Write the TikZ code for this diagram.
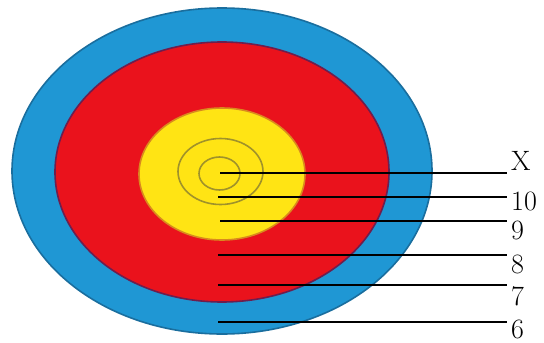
\documentclass[tikz,border=0pt]{standalone}
\usepackage{tikz}
\usetikzlibrary{positioning,calc}
\definecolor{cBlue}{HTML}{1F97D4}
\definecolor{cBlueEdge}{HTML}{1A6E9E}
\definecolor{cRed}{HTML}{EA121C}
\definecolor{cRedEdge}{HTML}{6E1E4E}
\definecolor{cYel}{HTML}{FFE414}
\definecolor{cYelEdge}{HTML}{D98A1E}
\definecolor{cRing}{HTML}{A0922A}
\tikzset{
  zone/.style={draw=#1Edge,line width=1.6pt,fill=#1},
  ring/.style={draw=cRing,line width=1.6pt},
  score/.style={inner sep=0pt,anchor=west,font=\fontsize{28}{30}\selectfont},
  pointer/.style={black,line width=1.1pt,shorten >=4pt},
}

\begin{document}
\begin{tikzpicture}[x=1pt,y=-1pt]
  \useasboundingbox (0,0) rectangle (544,343);
  % target faces
  \path[zone=cBlue] (222,171) ellipse [x radius=210pt,y radius=163pt];
  \path[zone=cRed] (222,172) ellipse [x radius=167pt,y radius=130pt];
  \path[zone=cYel] (222,174) ellipse [x radius=83pt,y radius=66pt];
  \draw[ring] (220.5,171.5) ellipse [x radius=42.5pt,y radius=33pt];
  \draw[ring] (219.5,173.5) ellipse [x radius=20.5pt,y radius=16.5pt];

  % where the pointers start
  \coordinate (pX) at (220,173);
  \coordinate (p10) at (218,197);
  \coordinate (p9) at (220,221);
  \coordinate (p8) at (218,255);
  \coordinate (p7) at (218,285);
  \coordinate (p6) at (218,322);

  % scores
  \node[score] (lX) at (511,161) {X};
  \node[score] (l10) at (511,201) {10};
  \node[score] (l9) at (511,230) {9};
  \node[score] (l8) at (511,264) {8};
  \node[score] (l7) at (511,296) {7};
  \node[score] (l6) at (511,329) {6};

  \foreach \s in {X,10,9,8,7,6}
    \draw[pointer] (p\s) -- (p\s -| l\s.west);
\end{tikzpicture}
\end{document}
